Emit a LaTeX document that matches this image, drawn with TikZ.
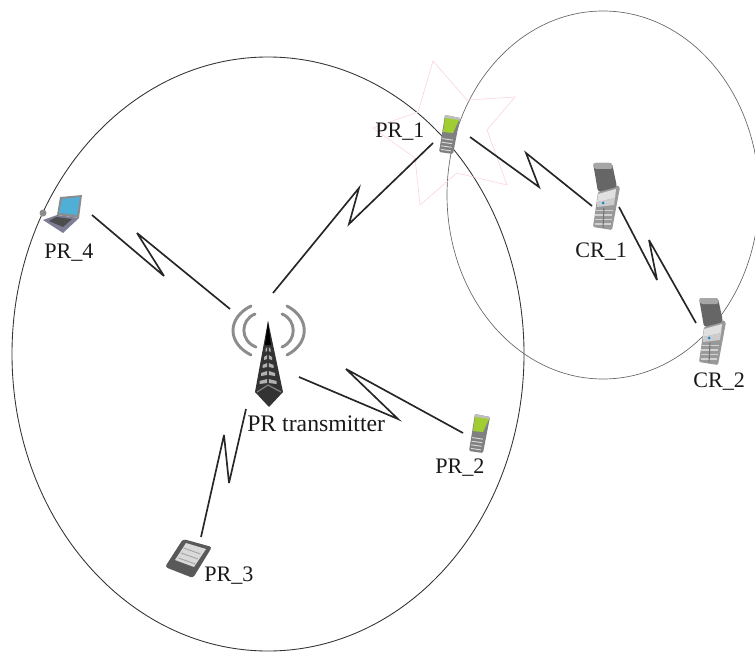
\documentclass[tikz,border=0pt]{standalone}
\usepackage{fontspec}
\setmainfont{Liberation Serif}
\definecolor{screengreen}{RGB}{160,205,50}
\definecolor{laptopblue}{RGB}{80,175,215}
\definecolor{laptopbase}{RGB}{125,125,150}
\definecolor{flashpink}{RGB}{250,215,225}
\tikzset{
  bigring/.style={draw=black!80,line width=0.65pt},
  smallring/.style={draw=black!60,line width=0.5pt},
  flash/.style={draw=flashpink,line width=0.5pt},
  link/.style={draw=black!85,line width=1.25pt,line join=miter,miter limit=6},
  wave/.style={draw=black!45,line width=2.2pt,line cap=round},
  lbl/.style={anchor=base west,inner sep=0pt,font=\fontsize{16.6pt}{18pt}\selectfont,text=black!90},
  device/.style={inner sep=0pt,minimum size=1pt},
  greenphone/.pic={
    \fill[black!50,rounded corners=1pt] (-5,-19) -- (10,-16) -- (3,20) -- (-11,18) -- cycle;
    \fill[black!25] (-5,-19) -- (10,-16) -- (9,-13) -- (-6,-16) -- cycle;
    \fill[screengreen] (-5,-16) -- (9,-14) -- (3,-1) -- (-7,-2) -- cycle;
    \foreach \k in {1,2,3,4}{
      \draw[white!85!black,line width=0.7pt] (-7.6-0.4*\k,1+3.6*\k) -- (3.4-0.6*\k,2.5+3.6*\k);
    }
  },
  flipphone/.pic={
    \fill[black!40,rounded corners=1pt] (-8,-3) -- (10,-10) -- (14,-8) -- (6,35) -- (-13,32) -- cycle;
    \fill[black!60,rounded corners=2pt] (-13,-32) -- (6,-32) -- (11,-8) -- (-8,-3) -- cycle;
    \fill[black!35,rounded corners=2pt] (-13,-32) -- (6,-32) -- (7,-26) -- (-12,-26) -- cycle;
    \fill[black!12] (-8,-1) -- (10,-6) -- (9,3) -- (-9,7) -- cycle;
    \fill[black!20] (-9,7) -- (9,3) -- (8,10) -- (-9,12) -- cycle;
    \fill[cyan!70!blue] (-3,8) circle (1.5);
    \foreach \k in {1,2,3,4}{
      \draw[black!18,line width=0.8pt] (-10-0.3*\k,11+4.5*\k) -- (7-0.5*\k,11+4.5*\k);
    }
    \draw[black!55,line width=0.8pt] (-2,13) -- (-3,33);
  }
}
\begin{document}
\begin{tikzpicture}[x=0.75pt,y=-0.75pt]
\useasboundingbox (0,0) rectangle (755,652);
% coverage rings
\draw[bigring] (268,354) ellipse [x radius=256,y radius=297];
\draw[smallring] (603,195) ellipse [x radius=156,y radius=184];
% interference flash
\draw[flash] (433,61) -- (467,100) -- (515,97) -- (487,130) -- (507,185) -- (457,173) -- (420,205) -- (415,158) -- (373,128) -- (418,112) -- cycle;
% device nodes
\node[device] (tower) at (268,360) {};
\node[device] (pr1) at (450,134) {};
\node[device] (pr2) at (480,433) {};
\node[device] (pr3) at (189,558) {};
\node[device] (pr4) at (62,215) {};
\node[device] (cr1) at (606,195) {};
\node[device] (cr2) at (712,330) {};
% antenna waves
\draw[wave] (251,306) .. controls (227,318) and (227,343) .. (251,355);
\draw[wave] (255,314) .. controls (240,320) and (240,341) .. (256,347);
\draw[wave] (287,306) .. controls (310,318) and (310,343) .. (287,355);
\draw[wave] (282,314) .. controls (297,320) and (297,341) .. (282,347);
% tower
\fill[black!80] (268,321) -- (283,392) -- (269,407) -- (255,392) -- cycle;
\foreach \yy/\hw in {348/2.5,356/4,364/5.5,372/7,380/8.5}{
  \fill[black!30] (268-\hw,\yy+1) -- (268-0.8,\yy-1) -- (268-0.8,\yy+3) -- (268-\hw,\yy+4) -- cycle;
  \fill[black!30] (268+\hw,\yy+1) -- (268+0.8,\yy-1) -- (268+0.8,\yy+3) -- (268+\hw,\yy+4) -- cycle;
}
\fill[black] (268,321) -- (271,345) -- (265,345) -- cycle;
\draw[black!50,line width=0.9pt] (257,392) -- (268,385) -- (281,392);
% devices
\pic at (pr1) {greenphone};
\pic at (pr2) {greenphone};
\pic at (cr1) {flipphone};
\pic at (cr2) {flipphone};
% laptop
\fill[black!45] (43,213) circle (3.5);
\fill[black!45] (60,197) -- (82,195) -- (79,218) -- (57,215) -- cycle;
\fill[laptopblue] (62,199) -- (80,197) -- (77,215) -- (59,213) -- cycle;
\fill[laptopbase] (57,215) -- (79,218) -- (63,233) -- (43,220) -- cycle;
\fill[black!70] (56,217) -- (72,219) -- (63,227) -- (49,221) -- cycle;
% PDA
\fill[black!65,rounded corners=2pt] (183,539) -- (212,547) -- (193,578) -- (165,567) -- cycle;
\fill[black!15] (186,543) -- (206,549) -- (194,567) -- (175,560) -- cycle;
\foreach \k in {1,2,3}{
  \draw[black!35,line width=0.7pt] (183-2.5*\k+3,543+5*\k) -- (203-2.5*\k,549+5*\k);
}
% link end points and bends
\coordinate (a1) at (273,293); \coordinate (a2) at (359,188); \coordinate (a3) at (349,224); \coordinate (a4) at (433,143);
\coordinate (b1) at (470,137); \coordinate (b2) at (539,187); \coordinate (b3) at (526,153); \coordinate (b4) at (592,206);
\coordinate (c1) at (619,207); \coordinate (c2) at (657,280); \coordinate (c3) at (649,240); \coordinate (c4) at (696,323);
\coordinate (d1) at (92,215); \coordinate (d2) at (164,276); \coordinate (d3) at (137,233); \coordinate (d4) at (230,309);
\coordinate (e1) at (299,377); \coordinate (e2) at (398,419); \coordinate (e3) at (346,369); \coordinate (e4) at (463,433);
\coordinate (f1) at (246,409); \coordinate (f2) at (229,483); \coordinate (f3) at (224,435); \coordinate (f4) at (201,537);
\draw[link] (a1) -- (a2) -- (a3) -- (a4);
\draw[link] (b1) -- (b2) -- (b3) -- (b4);
\draw[link] (c1) -- (c2) -- (c3) -- (c4);
\draw[link] (d1) -- (d2) -- (d3) -- (d4);
\draw[link] (e1) -- (e2) -- (e3) -- (e4);
\draw[link] (f1) -- (f2) -- (f3) -- (f4);
% labels
\node[lbl] (l1) at (375,138) {PR\_1};
\node[lbl] (l2) at (435,473) {PR\_2};
\node[lbl] (l3) at (204,581) {PR\_3};
\node[lbl] (l4) at (44,258) {PR\_4};
\node[lbl] (l5) at (575,257) {CR\_1};
\node[lbl] (l6) at (693,387) {CR\_2};
\node[lbl,font=\fontsize{17.8pt}{18pt}\selectfont] (l7) at (247,431) {PR transmitter};
\end{tikzpicture}
\end{document}
